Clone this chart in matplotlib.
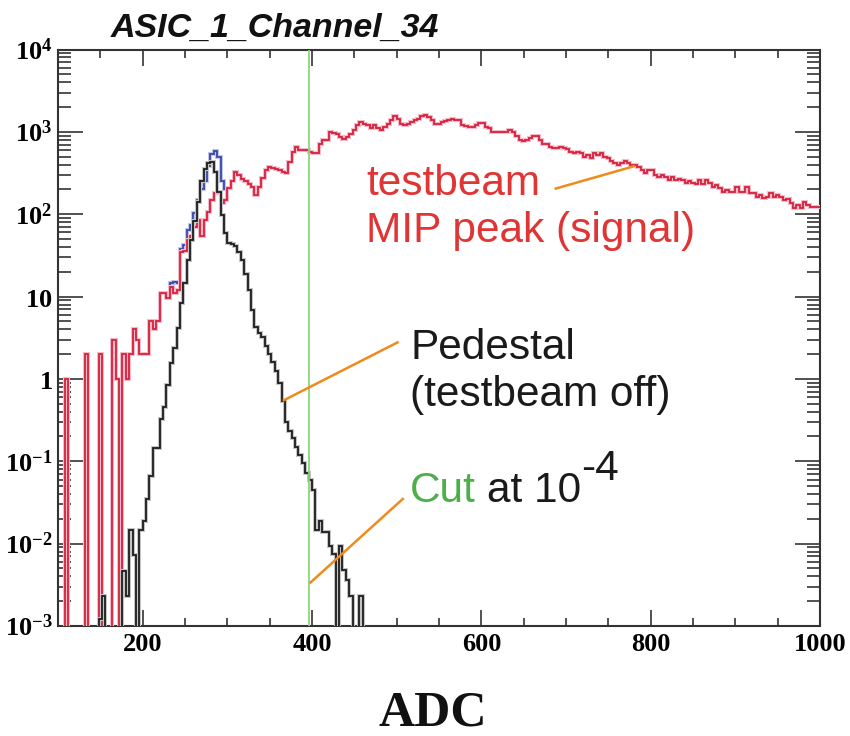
import matplotlib
matplotlib.use("Agg")
import matplotlib.pyplot as plt
import matplotlib.patheffects as pe
import numpy as np
from matplotlib.ticker import MultipleLocator, LogLocator, NullFormatter

# histogram data, 4 ADC wide bins
red_start = 100
red_counts = [
    0, 0, 1, 0, 0, 0, 0, 0, 2, 0,
    0, 0, 2, 0, 0, 0, 3, 1, 0, 2,
    1, 2, 4, 3, 2, 2, 2, 5, 4, 5,
    11, 11, 9.6, 13, 11, 12, 35, 36, 49, 55,
    70, 85, 55, 85, 106, 148, 180, 188, 135, 148,
    206, 250, 330, 300, 270, 250, 230, 216, 171, 216,
    273, 344, 378, 360, 350, 344, 329, 318, 436, 574,
    660, 600, 600, 600, 574, 552, 552, 718, 795, 800,
    1000, 960, 930, 870, 830, 870, 955, 1050, 1200, 1320,
    1260, 1200, 1100, 1200, 1100, 1050, 1150, 1250, 1380, 1550,
    1450, 1250, 1200, 1250, 1300, 1380, 1450, 1550, 1590, 1500,
    1380, 1250, 1250, 1330, 1350, 1380, 1450, 1400, 1380, 1210,
    1180, 1155, 1155, 1210, 1270, 1270, 1155, 1100, 1000, 1000,
    1000, 1000, 1000, 1040, 1000, 880, 800, 780, 800, 840,
    880, 880, 800, 720, 720, 660, 640, 640, 660, 640,
    620, 570, 550, 570, 550, 500, 520, 475, 550, 520,
    550, 500, 475, 437, 420, 400, 420, 437, 420, 400,
    400, 370, 340, 314, 340, 340, 300, 286, 300, 286,
    260, 286, 260, 270, 260, 237, 250, 237, 230, 260,
    230, 260, 237, 216, 225, 207, 187, 195, 187, 187,
    216, 187, 187, 216, 180, 180, 164, 170, 158, 164,
    180, 164, 170, 164, 149, 155, 135, 118, 130, 118,
    140, 130, 124, 124, 124,
]

blue_start = 220
blue_counts = [
    11, 11, 10, 14.5, 15, 14.5, 38, 42, 64, 75,
    103, 148, 205, 250, 380, 540, 580, 500, 250, 200,
    206,
]

black_start = 144
black_counts = [
    0, 0.0012, 0.0023, 0, 0, 0, 0, 0, 0.0047, 0.0023,
    0.0145, 0.0073, 0, 0.0145, 0.0188, 0.035, 0.066, 0.144, 0.144, 0.33,
    0.46, 0.85, 1.55, 2.35, 4.1, 8.3, 14.5, 28, 49, 82,
    142, 250, 350, 420, 434, 330, 188, 98, 59, 45,
    43, 41, 35, 28, 19, 12, 6.9, 4.3, 3.6, 3.2,
    2.5, 2.0, 1.6, 1.25, 0.9, 0.54, 0.30, 0.23, 0.19, 0.15,
    0.12, 0.096, 0.072, 0.06, 0.045, 0.0145, 0.0186, 0.014, 0.014, 0.0093,
    0.0074, 0, 0.0093, 0.0048, 0.0036, 0.0023, 0, 0, 0.0023, 0,
]
bin_w = 4

cut_adc = 396

# annotation pointer lines (data coords)
signal_line = ([686.5, 781.4], [203, 385])
pedestal_line = ([365.4, 502.3], [0.542, 2.82])
cut_line = ([397.2, 508.3], [0.0033, 0.0357])

y_ticks = [1e-3, 1e-2, 1e-1, 1, 10, 1e2, 1e3, 1e4]
y_labels = [r"$10^{-3}$", r"$10^{-2}$", r"$10^{-1}$", r"$1$", r"$10$",
            r"$10^{2}$", r"$10^{3}$", r"$10^{4}$"]
x_ticks = [200, 400, 600, 800, 1000]

plt.rcParams["mathtext.fontset"] = "custom"
plt.rcParams["mathtext.rm"] = "Liberation Serif:bold"
plt.rcParams["mathtext.it"] = "Liberation Serif:bold"
plt.rcParams["mathtext.bf"] = "Liberation Serif:bold"

W, H = 850, 736
def fpos(x, y):
    return x / W, 1 - y / H

fig = plt.figure(figsize=(8.5, 7.36), dpi=100)
ax = fig.add_axes([58 / W, 1 - 626 / H, 762 / W, 576.5 / H])


def draw_hist(start, counts, color, lw, halo=None, z=2):
    counts = np.array(counts, dtype=float)
    edges = start + bin_w * np.arange(len(counts) + 1)
    vals = np.where(counts > 0, counts, 1e-9)  # empty bins drop below the axis
    effects = None
    if halo:
        effects = [pe.Stroke(linewidth=lw + 1.6, foreground=halo), pe.Normal()]
    ax.stairs(vals, edges, baseline=None, color=color, lw=lw, zorder=z,
              path_effects=effects)


draw_hist(blue_start, blue_counts, "#3848a8", 1.3, halo="#c0c7ea", z=2)
draw_hist(red_start, red_counts, "#d8203c", 1.3, halo="#f4bccb", z=3)
draw_hist(black_start, black_counts, "#1c1c1c", 1.3, halo="#c4c4c4", z=4)

ax.axvline(cut_adc, color="#8ed67a", lw=1.3, zorder=5)

orange = "#f08a1c"
for xs, ys in (signal_line, pedestal_line, cut_line):
    ax.plot(xs, ys, color=orange, lw=1.8, solid_capstyle="butt", zorder=6)

ax.set_yscale("log")
ax.set_xlim(100, 1000)
ax.set_ylim(1e-3, 1e4)

ax.set_yticks(y_ticks, labels=y_labels)
ax.yaxis.set_minor_locator(LogLocator(base=10, subs=np.arange(2, 10), numticks=30))
ax.yaxis.set_minor_formatter(NullFormatter())
ax.set_xticks(x_ticks)
ax.xaxis.set_minor_locator(MultipleLocator(50))

ax.tick_params(axis="both", which="both", direction="in", top=True, right=True,
               color="#333333", width=1.2)
ax.tick_params(axis="y", which="major", length=18, pad=4, labelsize=19)
ax.tick_params(axis="y", which="minor", length=9.4)
ax.tick_params(axis="x", which="major", length=11.5, pad=5)
ax.tick_params(axis="x", which="minor", length=5.8)
for lab in ax.get_xticklabels():
    lab.set_fontfamily("Liberation Serif")
    lab.set_fontweight("bold")
    lab.set_fontsize(19)

for sp in ax.spines.values():
    sp.set_linewidth(1.5)
    sp.set_color("#333333")

# title and axis label
fig.text(*fpos(111, 36.7), "ASIC_1_Channel_34", ha="left", va="baseline",
         fontsize=24.5, family="Liberation Sans", weight="bold", style="italic",
         color="#111111")
fig.text(*fpos(433, 726), "ADC", ha="center", va="baseline", fontsize=36,
         family="Liberation Serif", weight="bold", color="#111111")

# annotations
txt = dict(ha="left", va="baseline", fontsize=30.5, family="Liberation Sans")
red_txt = "#e03535"
fig.text(*fpos(366, 195), "testbeam", color=red_txt, **txt)
fig.text(*fpos(366, 242), "MIP peak (signal)", color=red_txt, **txt)
fig.text(*fpos(410, 359), "Pedestal", color="#1a1a1a", **txt)
fig.text(*fpos(410, 406), "(testbeam off)", color="#1a1a1a", **txt)
fig.text(*fpos(410, 501.7), "Cut", color="#4caf4a", **txt)
fig.text(*fpos(487, 501.7), "at 10", color="#1a1a1a", **txt)
fig.text(*fpos(581, 480), "-4", color="#1a1a1a", **txt)

fig.savefig("out.png", dpi=100)
